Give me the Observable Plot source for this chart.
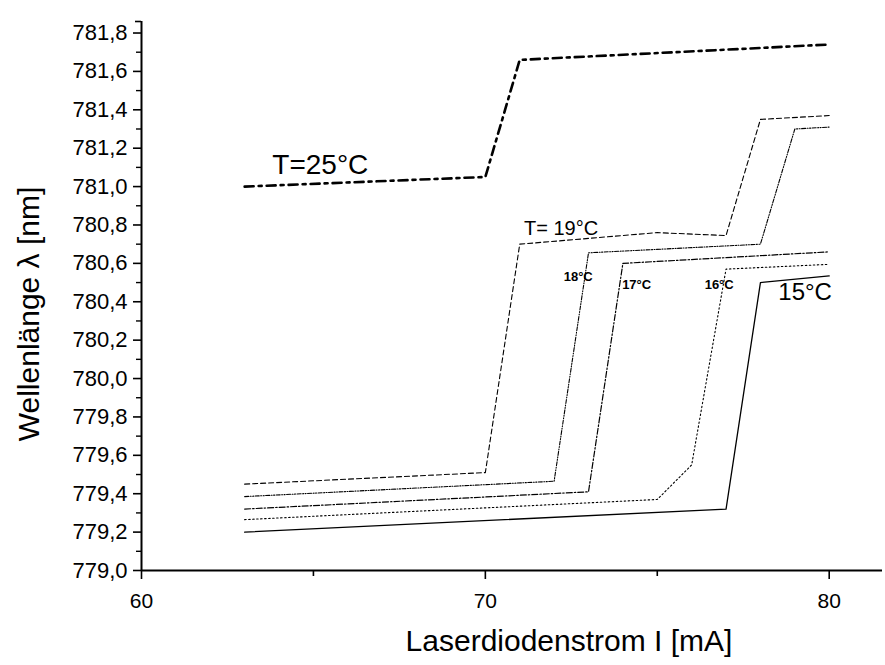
<!DOCTYPE html>
<html>
<head>
<meta charset="utf-8">
<script src="https://cdn.jsdelivr.net/npm/d3@7"></script>
<script src="https://cdn.jsdelivr.net/npm/@observablehq/plot@0.6"></script>
<style>
  html, body { margin: 0; padding: 0; background: #fff; }
</style>
</head>
<body>
<div id="chart"></div>
<script>
// Data (current in mA, wavelength in nm)
const current25 = [63, 70, 71, 80];
const lambda25  = [781.00, 781.05, 781.66, 781.74];

const current19 = [63, 70, 71, 75, 77, 78, 80];
const lambda19  = [779.45, 779.51, 780.70, 780.76, 780.745, 781.35, 781.37];

const current18 = [63, 72, 73, 78, 79, 80];
const lambda18  = [779.385, 779.465, 780.655, 780.70, 781.30, 781.31];

const current17 = [63, 73, 74, 80];
const lambda17  = [779.32, 779.41, 780.60, 780.66];

const current16 = [63, 75, 76, 77, 80];
const lambda16  = [779.265, 779.37, 779.55, 780.57, 780.595];

const current15 = [63, 77, 78, 80];
const lambda15  = [779.20, 779.32, 780.50, 780.535];

// Annotation labels (handwritten in original)
const annoText   = ["T=25°C", "T= 19°C", "18°C", "17°C", "16°C", "15°C"];
const annoX      = [65.2, 72.2, 72.7, 74.4, 76.8, 79.3];
const annoY      = [781.11, 780.78, 780.53, 780.49, 780.49, 780.45];
const annoSize   = [28, 20, 13, 13, 13, 24];
const annoWeight = ["normal", "normal", "bold", "bold", "bold", "normal"];

const yMajor = [779.0, 779.2, 779.4, 779.6, 779.8, 780.0, 780.2, 780.4, 780.6, 780.8, 781.0, 781.2, 781.4, 781.6, 781.8];
const yMinor = [779.1, 779.3, 779.5, 779.7, 779.9, 780.1, 780.3, 780.5, 780.7, 780.9, 781.1, 781.3, 781.5, 781.7];
const xMajor = [60, 70, 80];
const xMinor = [65, 75];

const xTitle = "Laserdiodenstrom I [mA]";
const yTitle = "Wellenlänge λ [nm]";

const toRows = (xs, ys) => xs.map((x, i) => ({x, y: ys[i]}));
const anno = annoText.map((t, i) => ({t, x: annoX[i], y: annoY[i], s: annoSize[i], w: annoWeight[i]}));
const fmt = d => d.toFixed(1).replace(".", ",");

const annoMarks = ["normal", "bold"].map(w =>
  Plot.text(anno.filter(d => d.w === w), {x: "x", y: "y", text: "t", fontSize: "s", fontWeight: w, fill: "#000"})
);

const chart = Plot.plot({
  width: 885,
  height: 665,
  marginLeft: 141,
  marginRight: 3,
  marginTop: 21,
  marginBottom: 95,
  style: {fontFamily: "'Liberation Sans', Arial, sans-serif", background: "#fff", color: "#000"},
  x: {domain: [60, 81.55], label: null},
  y: {domain: [779, 781.86], label: null},
  marks: [
    Plot.axisY(yMajor, {tickSize: 8, tickPadding: 6, tickFormat: fmt, fontSize: 22, strokeWidth: 1.6, label: null}),
    Plot.axisY(yMinor, {tickSize: 5, tickFormat: () => "", strokeWidth: 1.4, label: null}),
    Plot.axisY([781.86], {tickSize: 6, tickFormat: () => "", strokeWidth: 1.6, label: null}),
    Plot.axisX(xMajor, {tickSize: 9, tickPadding: 14, tickFormat: d => String(d), fontSize: 21, strokeWidth: 1.6, label: null}),
    Plot.axisX(xMinor, {tickSize: 6, tickFormat: () => "", strokeWidth: 1.6, label: null}),
    Plot.ruleX([60], {strokeWidth: 2}),
    Plot.ruleY([779], {strokeWidth: 2}),
    Plot.line(toRows(current25, lambda25), {x: "x", y: "y", stroke: "#000", strokeWidth: 2.6, strokeDasharray: "9,5,3,5"}),
    Plot.line(toRows(current19, lambda19), {x: "x", y: "y", stroke: "#000", strokeWidth: 1.1, strokeDasharray: "5,3"}),
    Plot.line(toRows(current18, lambda18), {x: "x", y: "y", stroke: "#000", strokeWidth: 1.1, strokeDasharray: "4,1.5,1,1.5,1,1.5"}),
    Plot.line(toRows(current17, lambda17), {x: "x", y: "y", stroke: "#000", strokeWidth: 1.2, strokeDasharray: "6,2,1.5,2"}),
    Plot.line(toRows(current16, lambda16), {x: "x", y: "y", stroke: "#000", strokeWidth: 1.1, strokeDasharray: "1.5,2.5"}),
    Plot.line(toRows(current15, lambda15), {x: "x", y: "y", stroke: "#000", strokeWidth: 1.3}),
    ...annoMarks,
    Plot.text([xTitle], {frameAnchor: "bottom", textAnchor: "middle", lineAnchor: "middle", dx: 57, dy: 71, fontSize: 30, fill: "#000"}),
    Plot.text([yTitle], {frameAnchor: "left", textAnchor: "middle", lineAnchor: "middle", dx: -112, dy: 18, rotate: -90, fontSize: 30, fill: "#000"})
  ]
});
document.getElementById("chart").appendChild(chart);
</script>
</body>
</html>
